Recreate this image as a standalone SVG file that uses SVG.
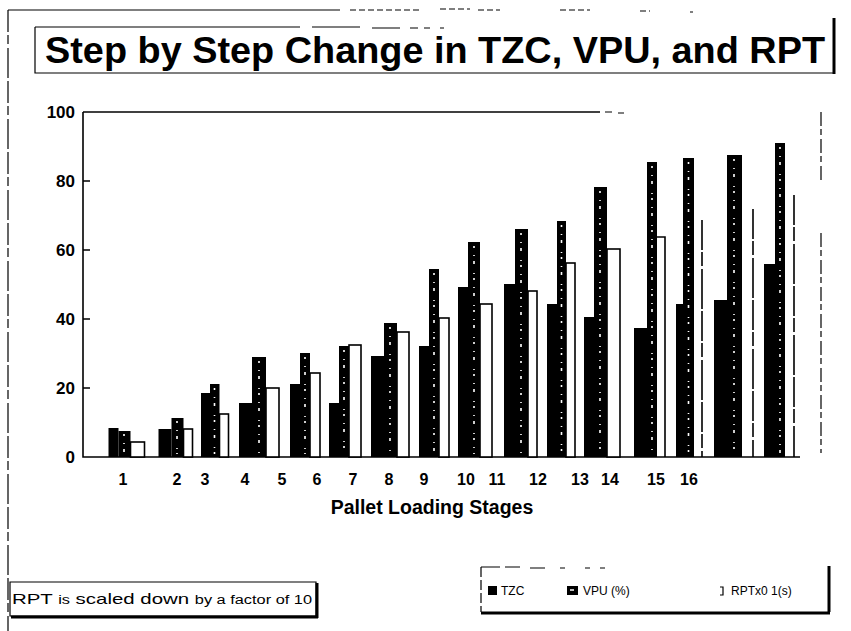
<svg xmlns="http://www.w3.org/2000/svg" width="851" height="631" viewBox="0 0 851 631">
  <style>
    .frame { fill: none; stroke: #000; stroke-width: 1.2; }
    .thick { fill: none; stroke: #000; stroke-width: 3; }
    .title { font-family: "Liberation Sans", Arial, sans-serif; font-weight: bold; font-size: 36px; fill: #000; }
    .ylab { font-family: "Liberation Sans", Arial, sans-serif; font-weight: bold; font-size: 17px; fill: #000; text-anchor: end; }
    .xlab { font-family: "Liberation Sans", Arial, sans-serif; font-weight: bold; font-size: 16px; fill: #000; text-anchor: middle; }
    .axtitle { font-family: "Liberation Sans", Arial, sans-serif; font-weight: bold; font-size: 19.5px; fill: #000; text-anchor: middle; }
    .note { font-family: "Liberation Sans", Arial, sans-serif; font-size: 15px; fill: #000; }
    .leg { font-family: "Liberation Sans", Arial, sans-serif; font-size: 12px; fill: #000; }
    .tzc { fill: #000; }
    .vpu { fill: #000; }
    .speck { fill: none; stroke: #fff; stroke-width: 1.6; stroke-dasharray: 2 7 1 5 3 9 1 4; }
    .rpt { fill: #fff; stroke: #000; stroke-width: 1.6; }
    .rptline { fill: none; stroke: #000; stroke-width: 1.6; stroke-dasharray: 30 2 14 3 40 2; }
    .axis { fill: none; stroke: #000; stroke-width: 1.6; }
  </style>

  <!-- outer page frame -->
  <g id="page-frame">
    <path class="frame" d="M8 10 H340" />
    <path class="frame" d="M350 10 H420 M440 9 H470 M478 10 H500 M560 10 H590 M640 11 H650 M690 12 H693" stroke-dasharray="6 3" />
    <path class="frame" d="M8 10 V631" stroke-dasharray="22 3 9 4 30 3" />
  </g>

  <!-- title box -->
  <g id="title">
    <path class="frame" d="M35 27 H300" />
    <path class="frame" d="M312 27 H360 M372 28 H400 M410 28 H418 M424 28 H430 M440 28 H444" />
    <path class="frame" d="M35 27 V73 H834" />
    <path class="thick" d="M834 18 V74" />
    <text class="title" x="45" y="63" textLength="780" lengthAdjust="spacingAndGlyphs">Step by Step Change in TZC, VPU, and RPT</text>
  </g>

  <!-- plot area: axes, ticks and frame -->
  <g id="axes">
    <path class="axis" d="M83 112 H600" />
    <path class="frame" d="M605 112 H612 M618 113 H624" />
    <path class="axis" d="M83 112 V457 H800" />
    <path class="axis" d="M83 181 H90 M83 250 H90 M83 319 H90 M83 388 H90" />
    <path class="frame" d="M821 112 V183 M821 233 V453" stroke-dasharray="14 3 6 4" />
    <text class="ylab" x="75" y="118">100</text>
    <text class="ylab" x="75" y="187">80</text>
    <text class="ylab" x="75" y="256">60</text>
    <text class="ylab" x="75" y="325">40</text>
    <text class="ylab" x="75" y="394">20</text>
    <text class="ylab" x="75" y="463">0</text>
  </g>

  <!-- TZC bars -->
  <g id="series-tzc">
    <rect class="tzc" x="108.5" y="428" width="10" height="29" />
    <rect class="tzc" x="158.5" y="429" width="13" height="28" />
    <rect class="tzc" x="201" y="393" width="9" height="64" />
    <rect class="tzc" x="239" y="403" width="13" height="54" />
    <rect class="tzc" x="290" y="384" width="10" height="73" />
    <rect class="tzc" x="329" y="403" width="10" height="54" />
    <rect class="tzc" x="371" y="356" width="13" height="101" />
    <rect class="tzc" x="419" y="346" width="10" height="111" />
    <rect class="tzc" x="458" y="287" width="10" height="170" />
    <rect class="tzc" x="504" y="284" width="11" height="173" />
    <rect class="tzc" x="547" y="304" width="10" height="153" />
    <rect class="tzc" x="584" y="317" width="10" height="140" />
    <rect class="tzc" x="634" y="328" width="13" height="129" />
    <rect class="tzc" x="676" y="304" width="7" height="153" />
    <rect class="tzc" x="714" y="300" width="13" height="157" />
    <rect class="tzc" x="764" y="264" width="11" height="193" />
  </g>

  <!-- VPU bars (dark fill with light speckle down the middle) -->
  <g id="series-vpu">
    <rect class="vpu" x="118.5" y="431" width="12" height="26" />
    <rect class="vpu" x="171.5" y="418" width="12" height="39" />
    <rect class="vpu" x="210" y="384" width="9.5" height="73" />
    <rect class="vpu" x="252" y="357" width="14" height="100" />
    <rect class="vpu" x="300" y="353" width="10" height="104" />
    <rect class="vpu" x="339" y="346" width="10" height="111" />
    <rect class="vpu" x="384" y="323" width="13" height="134" />
    <rect class="vpu" x="429" y="269" width="10" height="188" />
    <rect class="vpu" x="468" y="242" width="12" height="215" />
    <rect class="vpu" x="515" y="229" width="13" height="228" />
    <rect class="vpu" x="557" y="221" width="9" height="236" />
    <rect class="vpu" x="594" y="187" width="13" height="270" />
    <rect class="vpu" x="647" y="162" width="10" height="295" />
    <rect class="vpu" x="683" y="158" width="11" height="299" />
    <rect class="vpu" x="727" y="155" width="15" height="302" />
    <rect class="vpu" x="775" y="143" width="10" height="314" />
    <path class="speck" d="M124 434 V454 M177 421 V454 M214.5 388 V454 M259 361 V454 M305 357 V454 M344 350 V454 M390 327 V454 M434 273 V454 M474 246 V454 M521 233 V454 M561.5 225 V454 M600 191 V454 M652 166 V454 M688.5 162 V454 M734 159 V454 M780 147 V454" />
  </g>

  <!-- RPT bars (outlined) -->
  <g id="series-rpt">
    <rect class="rpt" x="130.5" y="442" width="14" height="15" />
    <rect class="rpt" x="183.5" y="429" width="9" height="28" />
    <rect class="rpt" x="219.5" y="414" width="9" height="43" />
    <rect class="rpt" x="266" y="388" width="13" height="69" />
    <rect class="rpt" x="310" y="373" width="10" height="84" />
    <rect class="rpt" x="349" y="345" width="12" height="112" />
    <rect class="rpt" x="397" y="332" width="12" height="125" />
    <rect class="rpt" x="439" y="318" width="10" height="139" />
    <rect class="rpt" x="480" y="304" width="12" height="153" />
    <rect class="rpt" x="528" y="291" width="9" height="166" />
    <rect class="rpt" x="566" y="263" width="9" height="194" />
    <rect class="rpt" x="607" y="249" width="13" height="208" />
    <path class="axis" d="M657 237 H665 V457" />
    <path class="rptline" d="M702 220 V457" />
    <path class="rptline" d="M753 209 V457" />
    <path class="rptline" d="M794 195 V457" />
  </g>

  <!-- category labels -->
  <g id="x-labels">
    <text class="xlab" x="123" y="485">1</text>
    <text class="xlab" x="177" y="485">2</text>
    <text class="xlab" x="205" y="485">3</text>
    <text class="xlab" x="245" y="485">4</text>
    <text class="xlab" x="282" y="485">5</text>
    <text class="xlab" x="317" y="485">6</text>
    <text class="xlab" x="353" y="485">7</text>
    <text class="xlab" x="389" y="485">8</text>
    <text class="xlab" x="424" y="485">9</text>
    <text class="xlab" x="466" y="485">10</text>
    <text class="xlab" x="497" y="485">11</text>
    <text class="xlab" x="538" y="485">12</text>
    <text class="xlab" x="580" y="485">13</text>
    <text class="xlab" x="610" y="485">14</text>
    <text class="xlab" x="656" y="485">15</text>
    <text class="xlab" x="689" y="485">16</text>
    <text class="axtitle" x="432" y="514">Pallet Loading Stages</text>
  </g>

  <!-- scaling note -->
  <g id="note">
    <path class="frame" d="M10 582 H316 V616 H10 Z" />
    <path class="thick" d="M317 583 V618 M11 617 H318" />
    <text class="note" x="12" y="604" textLength="300" lengthAdjust="spacingAndGlyphs">RPT <tspan font-size="12">is</tspan> scaled down <tspan font-size="12">by a factor of 10</tspan></text>
  </g>

  <!-- legend -->
  <g id="legend">
    <path class="frame" d="M481 567 H500 M505 567 H520 M530 568 H545 M560 568 H565 M585 568 H590 M600 568 H605" />
    <path class="frame" d="M481 567 V612" stroke-dasharray="10 3" />
    <path class="thick" d="M829 566 V612 M481 613 H830" />
    <rect x="488" y="586" width="9" height="9" fill="#000" />
    <text class="leg" x="501" y="595">TZC</text>
    <rect x="567" y="586" width="11" height="9" fill="#000" />
    <path d="M570 590 H574" stroke="#fff" stroke-width="1.5" />
    <text class="leg" x="583" y="595">VPU (%)</text>
    <path d="M720 587 H723 V595 H720" fill="none" stroke="#000" stroke-width="1.2" />
    <text class="leg" x="731" y="595">RPTx0 1(s)</text>
  </g>
</svg>
